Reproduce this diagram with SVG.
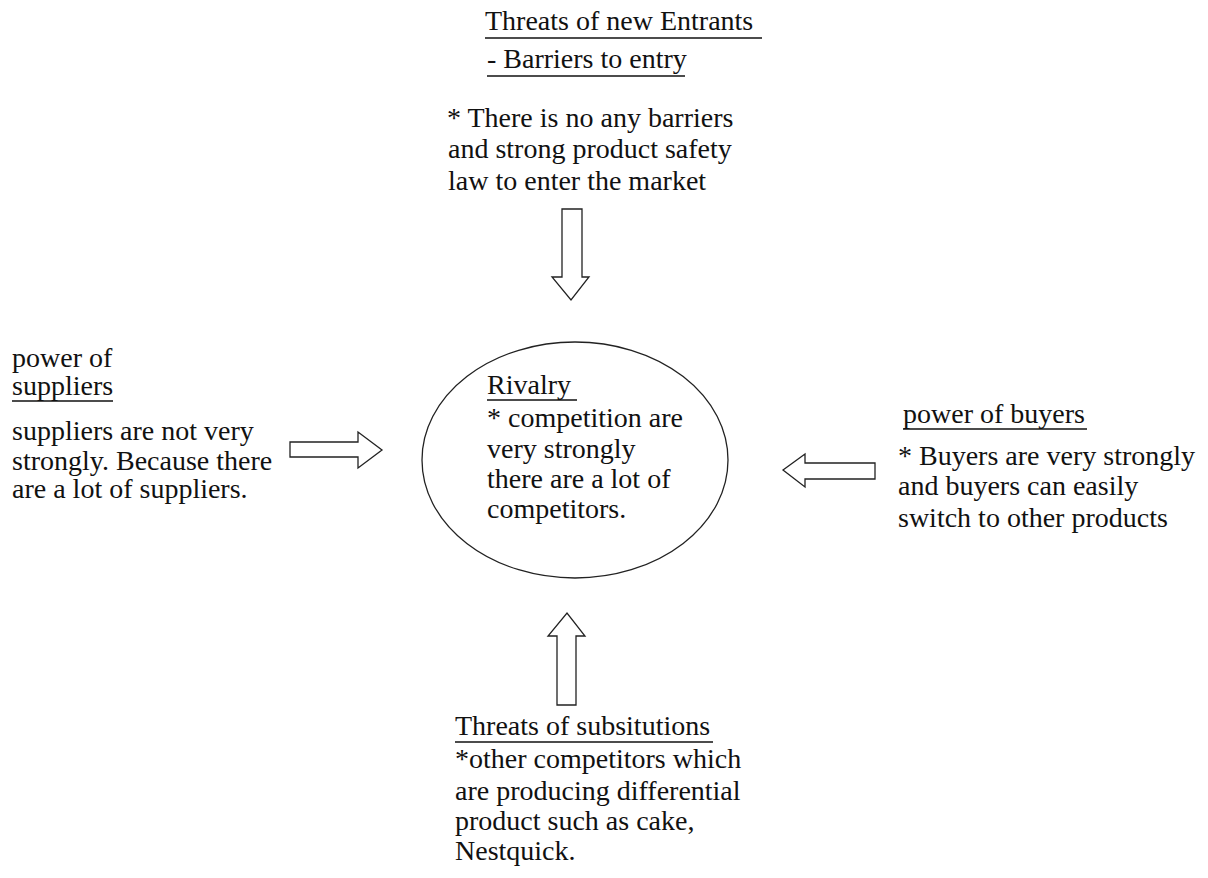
<svg xmlns="http://www.w3.org/2000/svg" width="1208" height="878" viewBox="0 0 1208 878">
<style>
.t{font-size:28px;fill:#111}
.ul{stroke:#111;stroke-width:1.5}
.arr{fill:#fff;stroke:#222;stroke-width:1.3;stroke-linejoin:miter}
.node{fill:#fff;stroke:#222;stroke-width:1.3}
</style>
<rect width="1208" height="878" fill="#fff"/>
<g font-family="Liberation Serif, DejaVu Serif, serif">
<g id="entrants">
<text class="t" x="485" y="30">Threats of new Entrants</text>
<line class="ul" x1="485" y1="38" x2="762" y2="38"/>
<text class="t" x="487" y="68">- Barriers to entry</text>
<line class="ul" x1="487" y1="76" x2="685" y2="76"/>
<text class="t" x="447" y="127">* There is no any barriers</text>
<text class="t" x="448" y="158">and strong product safety</text>
<text class="t" x="448" y="190">law to enter the market</text>
</g>
<g id="suppliers">
<text class="t" x="12" y="367">power of</text>
<text class="t" x="12" y="395">suppliers</text>
<line class="ul" x1="12" y1="401" x2="113" y2="401"/>
<text class="t" x="12" y="440">suppliers are not very</text>
<text class="t" x="12" y="470">strongly. Because there</text>
<text class="t" x="12" y="498">are a lot of suppliers.</text>
</g>
<g id="rivalry">
<ellipse class="node" cx="575" cy="460" rx="153" ry="118"/>
<text class="t" x="487" y="394">Rivalry</text>
<line class="ul" x1="487" y1="400" x2="577" y2="400"/>
<text class="t" x="487" y="427">* competition are</text>
<text class="t" x="487" y="458">very strongly</text>
<text class="t" x="487" y="488">there are a lot of</text>
<text class="t" x="487" y="518">competitors.</text>
</g>
<g id="buyers">
<text class="t" x="903" y="423">power of buyers</text>
<line class="ul" x1="903" y1="429" x2="1087" y2="429"/>
<text class="t" x="898" y="465">* Buyers are very strongly</text>
<text class="t" x="898" y="495">and buyers can easily</text>
<text class="t" x="898" y="527">switch to other products</text>
</g>
<g id="substitutes">
<text class="t" x="455" y="735">Threats of subsitutions</text>
<line class="ul" x1="455" y1="742" x2="713" y2="742"/>
<text class="t" x="455" y="768">*other competitors which</text>
<text class="t" x="455" y="800">are producing differential</text>
<text class="t" x="455" y="830">product such as cake,</text>
<text class="t" x="455" y="860">Nestquick.</text>
</g>
</g>
<g id="connectors">
<polygon class="arr" points="562,209 582,209 582,277 589,277 571,300 552,277 562,277"/>
<polygon class="arr" points="290,442 358,442 358,432 382,450 358,468 358,457 290,457"/>
<polygon class="arr" points="875,463 805,463 805,454 783,470 805,487 805,479 875,479"/>
<polygon class="arr" points="557,705 576,705 576,636 585,636 567,613 548,636 557,636"/>
</g>
</svg>
